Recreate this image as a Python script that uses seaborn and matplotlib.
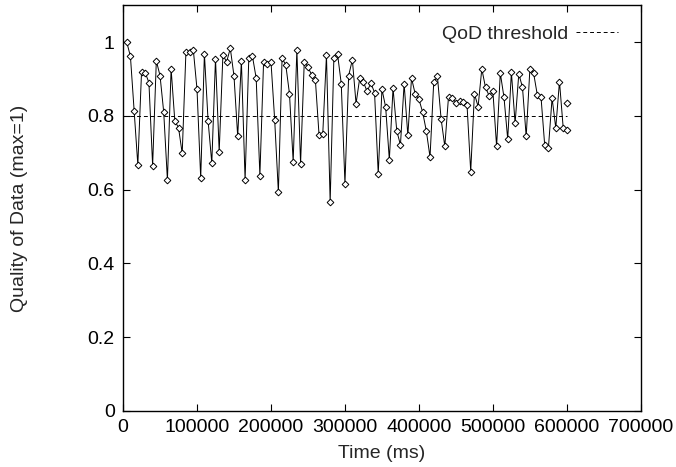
import numpy as np
import pandas as pd

import matplotlib
matplotlib.use("Agg")

import matplotlib.pyplot as plt
import seaborn as sns


# ------------------------ DATA --------------------------

# samples every 5 s, from 5000 ms to 600000 ms
time_ms = list(range(5000, 600001, 5000))

qod = [
    1.000, 0.961, 0.814, 0.667, 0.918, 0.917, 0.890, 0.665, 0.949, 0.909,
    0.810, 0.626, 0.927, 0.786, 0.768, 0.698, 0.972, 0.974, 0.979, 0.872,
    0.631, 0.968, 0.786, 0.672, 0.955, 0.703, 0.965, 0.946, 0.983, 0.908,
    0.744, 0.949, 0.626, 0.956, 0.961, 0.902, 0.638, 0.947, 0.940, 0.947,
    0.789, 0.593, 0.956, 0.938, 0.860, 0.676, 0.979, 0.670, 0.947, 0.932,
    0.911, 0.898, 0.747, 0.751, 0.964, 0.566, 0.956, 0.967, 0.887, 0.616,
    0.909, 0.952, 0.833, 0.903, 0.891, 0.866, 0.889, 0.863, 0.643, 0.872,
    0.824, 0.681, 0.875, 0.760, 0.721, 0.887, 0.747, 0.902, 0.859, 0.845,
    0.810, 0.759, 0.688, 0.891, 0.907, 0.791, 0.717, 0.852, 0.848, 0.836,
    0.841, 0.837, 0.830, 0.649, 0.860, 0.825, 0.927, 0.877, 0.854, 0.866,
    0.717, 0.916, 0.850, 0.737, 0.918, 0.780, 0.914, 0.877, 0.744, 0.927,
    0.916, 0.857, 0.852, 0.721, 0.712, 0.848, 0.767, 0.893, 0.768, 0.761,
]

# lone sample drawn without a connecting line
extra_time = [600000]
extra_qod = [0.836]

threshold_x = [0, 600000]
threshold_y = [0.8, 0.8]

x_ticks = [0, 100000, 200000, 300000, 400000, 500000, 600000, 700000]
y_ticks = [0, 0.2, 0.4, 0.6, 0.8, 1.0]
y_labels = ["0", "0.2", "0.4", "0.6", "0.8", "1"]

FS = 14


def main():
    sns.set_style("ticks")
    plt.rcParams["font.family"] = ["Liberation Sans", "DejaVu Sans"]

    df = pd.DataFrame({"time": time_ms, "qod": qod})

    fig = plt.figure(figsize=(6.76, 4.67), dpi=100)
    ax = fig.add_axes([0.182, 0.120, 0.766, 0.869])

    sns.lineplot(data=df, x="time", y="qod", ax=ax, color="black",
                 linewidth=0.7, marker="D", markersize=3.4,
                 markerfacecolor="white", markeredgecolor="black",
                 markeredgewidth=0.7)
    sns.scatterplot(x=extra_time, y=extra_qod, ax=ax, marker="D", s=12,
                    facecolor="white", edgecolor="black", linewidth=0.7,
                    zorder=3)
    sns.lineplot(x=threshold_x, y=threshold_y, ax=ax, color="black",
                 linewidth=0.7, linestyle=(0, (4, 3)), label="QoD threshold")

    ax.set_xlim(0, 700000)
    ax.set_ylim(0, 1.1)
    ax.set_xticks(x_ticks)
    ax.set_xticklabels([str(t) for t in x_ticks])
    ax.set_yticks(y_ticks)
    ax.set_yticklabels(y_labels)

    ax.tick_params(direction="in", length=5, width=0.8, top=True, right=True,
                   labelsize=FS, colors="black", pad=6)
    for sp in ax.spines.values():
        sp.set_visible(True)
        sp.set_color("black")
        sp.set_linewidth(1.0)

    ax.set_xlabel("Time (ms)", fontsize=FS, labelpad=6)
    ax.set_ylabel("Quality of Data (max=1)", fontsize=FS, labelpad=43)

    ax.legend(loc="upper right", frameon=False, markerfirst=False,
              fontsize=FS, handlelength=2.15, handletextpad=0.4,
              borderaxespad=0.55, bbox_to_anchor=(0.992, 0.995))

    fig.savefig("out.png", dpi=100)
    plt.close(fig)


if __name__ == "__main__":
    main()
